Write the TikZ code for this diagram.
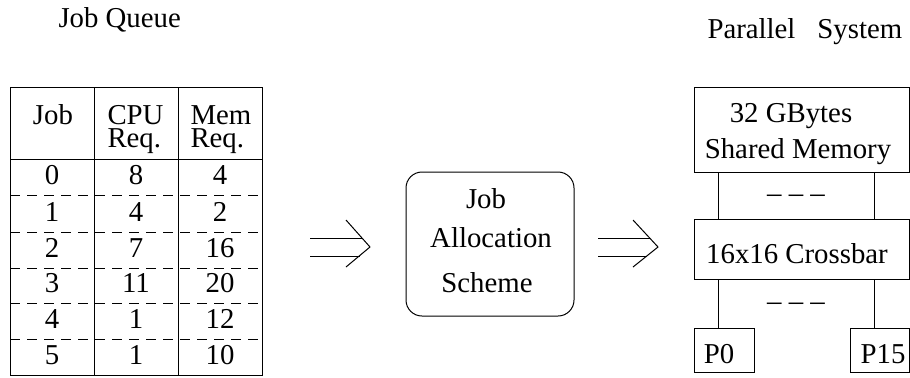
\documentclass[tikz,border=0pt]{standalone}
\usepackage{fontspec}
\setmainfont{Liberation Serif}
\begin{document}
\begin{tikzpicture}[x=0.5pt,y=-0.5pt,line width=0.5pt,
  txt/.style={inner sep=0pt,anchor=base,font=\fontsize{14.4}{16}\selectfont},
  rowline/.style={dash pattern=on 5pt off 3.5pt},
  box/.style={draw,inner sep=0pt}]
\useasboundingbox (0,0) rectangle (910,377);
% titles
\node[txt,anchor=base west] (tq) at (58,27) {Job Queue};
\node[txt,anchor=base west] (tp) at (707,38) {Parallel\hspace{11pt}System};
% table
\coordinate (tnw) at (10,87);
\coordinate (tse) at (262,375);
\draw (tnw) rectangle (tse);
\draw (94,87) -- (94,375);
\draw (178,87) -- (178,375);
\draw (10,159) -- (262,159);
\foreach \y in {195,232,268,303,339} \draw[rowline] (10,\y) -- (262,\y);
\node[txt] (hjob) at (53,124) {Job};
\node[txt,anchor=base west] (hcpu) at (107,124) {CPU};
\node[txt,anchor=base west] (hcpur) at (107,147) {Req.};
\node[txt,anchor=base west] (hmem) at (190,124) {Mem};
\node[txt,anchor=base west] (hmemr) at (190,147) {Req.};
\foreach \j/\c/\m/\b in {0/8/4/184,1/4/2/221,2/7/16/257,3/11/20/292,4/1/12/328,5/1/10/364}{
  \node[txt] (j\j) at (52,\b) {\j};
  \node[txt] (c\j) at (136,\b) {\c};
  \node[txt] (m\j) at (220,\b) {\m};
}
% first arrow
\coordinate (a1s) at (310,0);
\draw (310,238) -- (362,238);
\draw (310,256) -- (360,256);
\draw (346,220) -- (370,247) -- (346,267);
% scheme box
\node[draw,rounded corners=8pt,minimum width=84pt,minimum height=72pt,inner sep=0pt] (scheme) at (490,244) {};
\node[txt] (s1) at (486,208) {Job};
\node[txt] (s2) at (491,247) {Allocation};
\node[txt] (s3) at (487,292) {Scheme};
% second arrow
\draw (598,238) -- (650,238);
\draw (598,256) -- (647,256);
\draw (633,220) -- (658,247) -- (633,267);
% parallel system
\draw (694,87) rectangle (909,172);
\draw (694,219) rectangle (909,279);
\draw (694,328) rectangle (754,372);
\draw (850,328) rectangle (909,372);
\draw (718,172) -- (718,219);
\draw (874,172) -- (874,219);
\draw (718,279) -- (718,328);
\draw (874,279) -- (874,328);
\node[txt] (mem1) at (791,122) {32 GBytes};
\node[txt] (mem2) at (798,158) {Shared Memory};
\node[txt] (d1) at (796,202) {– – –};
\node[txt] (xbar) at (797,263) {16x16 Crossbar};
\node[txt] (d2) at (796,310) {– – –};
\node[txt] (p0) at (719,363) {P0};
\node[txt] (p15) at (883,363) {P15};
\end{tikzpicture}
\end{document}
